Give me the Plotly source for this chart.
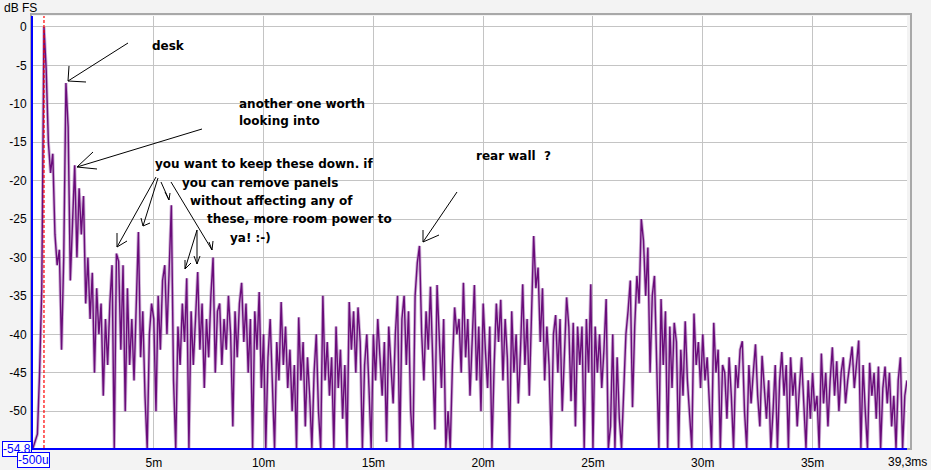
import plotly.graph_objects as go

# ---------------- data ----------------
t_start_ms = -0.5
t_step_ms = 0.1
etc_db = [
    # -0.5 .. -0.1
    -54.8, -54.0, -53.0, -45.0, -34.0,
    # 0
    0.0, -5.5, -15.0, -19.0, -16.5, -27.0, -31.0, -29.0, -42.0, -30.0,
    # 1
    -7.3, -13.0, -33.0, -24.0, -18.0, -30.0, -21.0, -27.0, -22.0, -36.0,
    # 2
    -30.0, -38.0, -32.0, -45.0, -34.0, -40.0, -36.0, -48.0, -38.0, -44.0,
    # 3
    -36.0, -31.0, -54.8, -29.5, -30.5, -42.0, -31.0, -50.0, -34.0, -44.0,
    # 4
    -38.0, -46.0, -35.0, -26.7, -43.0, -37.0, -48.0, -54.8, -40.0, -36.0,
    # 5
    -38.0, -50.0, -35.0, -42.0, -33.0, -31.0, -40.0, -30.0, -23.2, -46.0,
    # 6
    -54.8, -39.0, -44.0, -36.0, -41.0, -32.7, -54.8, -37.0, -44.0, -38.0,
    # 7
    -31.9, -42.0, -36.0, -47.0, -38.0, -43.0, -35.0, -30.0, -45.0, -37.0,
    # 8
    -36.0, -44.0, -38.0, -42.0, -35.0, -40.0, -52.0, -37.0, -43.0, -36.0,
    # 9
    -33.3, -41.0, -36.0, -45.0, -38.0, -54.8, -37.0, -42.0, -34.5, -47.0,
    # 10
    -40.0, -54.8, -43.0, -38.0, -48.0, -54.8, -41.0, -46.0, -35.8, -44.0,
    # 11
    -39.0, -47.0, -42.0, -50.0, -44.0, -54.8, -37.8, -46.0, -41.0, -52.0,
    # 12
    -43.0, -48.0, -54.8, -45.0, -40.0, -50.0, -54.8, -35.0, -46.0, -41.0,
    # 13
    -48.0, -43.0, -54.8, -39.0, -47.0, -42.0, -51.0, -44.0, -54.8, -35.8,
    # 14
    -42.0, -37.0, -45.0, -36.5, -41.0, -54.8, -44.0, -40.0, -47.0, -54.8,
    # 15
    -40.0, -46.0, -38.0, -43.0, -48.0, -41.0, -54.0, -39.0, -44.0, -49.0,
    # 16
    -40.0, -35.0, -54.8, -38.0, -35.0, -44.0, -37.0, -50.0, -54.8, -35.0,
    # 17
    -30.7, -28.5, -40.0, -46.0, -37.0, -42.0, -33.8, -44.0, -52.4, -33.6,
    # 18
    -41.0, -47.0, -38.0, -54.8, -50.0, -54.8, -44.0, -36.5, -40.0, -38.0,
    # 19
    -45.0, -33.3, -43.0, -38.0, -48.0, -41.0, -33.6, -46.0, -39.0, -50.0,
    # 20
    -36.0, -42.0, -47.0, -39.0, -54.8, -44.0, -36.0, -41.0, -35.5, -46.0,
    # 21
    -38.0, -43.0, -54.8, -37.0, -45.0, -40.0, -49.0, -42.0, -33.5, -44.0,
    # 22
    -38.0, -48.0, -36.0, -27.2, -34.0, -31.3, -41.0, -34.0, -46.0, -39.0,
    # 23
    -44.0, -54.8, -40.0, -37.5, -45.0, -38.0, -50.0, -42.0, -35.2, -39.0,
    # 24
    -48.7, -38.5, -52.0, -39.0, -44.0, -39.0, -54.8, -38.0, -45.0, -33.5,
    # 25
    -54.8, -39.0, -45.0, -40.0, -47.0, -42.0, -35.4, -54.8, -52.0, -40.0,
    # 26
    -54.8, -43.0, -51.0, -54.8, -46.0, -40.0, -36.9, -33.0, -49.5, -39.0,
    # 27
    -32.4, -36.0, -25.0, -27.8, -35.0, -28.7, -45.0, -35.0, -32.4, -43.0,
    # 28
    -54.8, -35.4, -44.0, -37.0, -54.8, -39.0, -47.0, -38.5, -41.0, -54.8,
    # 29
    -42.0, -48.0, -38.3, -46.0, -50.0, -54.8, -37.3, -44.0, -41.0, -47.0,
    # 30
    -40.0, -46.0, -43.0, -50.0, -54.8, -38.5, -45.0, -42.0, -54.8, -44.0,
    # 31
    -45.0, -51.0, -43.0, -48.0, -54.8, -44.0, -47.0, -42.0, -40.9, -50.0,
    # 32
    -54.8, -44.0, -49.0, -45.0, -41.3, -48.0, -52.0, -42.8, -47.0, -51.0,
    # 33
    -46.0, -54.8, -50.0, -44.0, -54.8, -46.0, -42.3, -48.0, -44.0, -54.8,
    # 34
    -43.0, -48.0, -45.0, -52.0, -47.0, -43.0, -49.0, -54.8, -46.0, -51.0,
    # 35
    -45.0, -50.0, -48.0, -54.8, -42.5, -49.0, -45.0, -52.0, -46.0, -41.7,
    # 36
    -48.0, -43.5, -50.0, -45.0, -43.0, -49.0, -46.0, -44.0, -41.6, -47.0,
    # 37
    -44.0, -40.8, -54.8, -44.0, -50.0, -54.8, -43.7, -48.0, -45.0, -51.0,
    # 38
    -44.2, -54.8, -47.0, -44.2, -49.0, -45.0, -52.0, -48.0, -54.8, -46.0,
    # 39.0 .. 39.3
    -43.0, -54.8, -48.0, -46.0,
]
time_ms = [round(t_start_ms + t_step_ms * i, 2) for i in range(len(etc_db))]

x_range = [-0.5, 39.3]
y_range = [-54.8, 1.43]
x_tick_vals = [5, 10, 15, 20, 25, 30, 35]
x_tick_text = ["5m", "10m", "15m", "20m", "25m", "30m", "35m"]
y_tick_vals = [0, -5, -10, -15, -20, -25, -30, -35, -40, -45, -50]
y_tick_text = ["0", "-5", "-10", "-15", "-20", "-25", "-30", "-35", "-40", "-45", "-50"]
marker_time_ms = 0.0

# ---------------- layout geometry ----------------
W_FIG, H_FIG = 931, 470
L, R, T, B = 33, 24, 16, 22
PW = W_FIG - L - R
PH = H_FIG - T - B


def px(x):
    return (x - L) / PW


def py(y):
    return (H_FIG - B - y) / PH


fig = go.Figure()
fig.add_trace(go.Scatter(x=time_ms, y=etc_db, mode="lines",
                         line=dict(color="rgba(165,115,180,0.55)", width=3.2),
                         hoverinfo="skip", showlegend=False))
fig.add_trace(go.Scatter(x=time_ms, y=etc_db, mode="lines",
                         line=dict(color="#6a0c7a", width=1.4),
                         showlegend=False))

shapes = []
# frame / shadow
shapes.append(dict(type="rect", xref="paper", yref="paper", x0=px(31), x1=px(911), y0=py(449), y1=py(14),
                   line=dict(color="#a8a8a8", width=2), layer="below"))
# red dashed marker
shapes.append(dict(type="line", xref="x", yref="paper", x0=marker_time_ms, x1=marker_time_ms, y0=0, y1=1,
                   line=dict(color="#ff0000", width=1.2, dash="3px,2px")))

arrow_color = "black"


def seg(x0, y0, x1, y1):
    shapes.append(dict(type="line", xref="paper", yref="paper",
                       x0=px(x0), y0=py(y0), x1=px(x1), y1=py(y1),
                       line=dict(color=arrow_color, width=1)))


# desk
seg(128, 43, 68, 81); seg(68, 81, 69, 66); seg(68, 81, 86, 82)
# another one
seg(202, 129, 77, 167); seg(77, 167, 93, 152); seg(77, 167, 97, 169)
# you want to keep these down
seg(156, 177, 117, 247); seg(117, 247, 117, 233); seg(117, 247, 127, 241)
seg(158, 178, 143, 226); seg(143, 226, 141, 218); seg(143, 226, 150, 223)
seg(161, 182, 169, 200); seg(169, 200, 165, 192); seg(169, 200, 170, 193)
seg(171, 182, 212, 250); seg(212, 250, 209, 242); seg(212, 250, 213, 241)
seg(197, 230, 185, 269); seg(185, 269, 185, 260); seg(185, 269, 191, 263)
seg(197, 230, 197, 264); seg(197, 264, 194, 256); seg(197, 264, 200, 256)
# rear wall
seg(457, 192, 423, 242); seg(423, 242, 423, 230); seg(423, 242, 439, 235)

ann_font = dict(family="DejaVu Sans, Verdana, sans-serif", size=12, color="black", weight="bold")
annotations = []


def txt(x, y, s):
    annotations.append(dict(xref="paper", yref="paper", x=px(x), y=py(y), text=s, showarrow=False,
                            xanchor="left", yanchor="middle", font=ann_font))


txt(150, 46, "desk")
txt(237, 104, "another one worth")
txt(237, 121, "looking into")
txt(153, 164, "you want to keep these down. if")
txt(180, 183, "you can remove panels")
txt(188, 201, "without affecting any of")
txt(205, 219, "these, more room power to")
txt(228, 238, "ya! :-)")
txt(474, 156, "rear wall  ?")

small_font = dict(family="Liberation Sans, Arial, sans-serif", size=12, color="black")
annotations.append(dict(xref="paper", yref="paper", x=px(2), y=py(8), text="dB FS", showarrow=False,
                        xanchor="left", yanchor="middle", font=small_font))
annotations.append(dict(xref="paper", yref="paper", x=px(929), y=py(462), text="39,3ms", showarrow=False,
                        xanchor="right", yanchor="middle", font=small_font))
blue_font = dict(family="Liberation Sans, Arial, sans-serif", size=12, color="#0000ff")
annotations.append(dict(xref="paper", yref="paper", x=px(32), y=py(449), text="-54,8", showarrow=False,
                        xanchor="right", yanchor="middle", font=blue_font, bgcolor="white",
                        bordercolor="#0000ff", borderwidth=1, borderpad=0))
annotations.append(dict(xref="paper", yref="paper", x=px(17), y=py(460), text="-500u", showarrow=False,
                        xanchor="left", yanchor="middle", font=blue_font, bgcolor="white",
                        bordercolor="#0000ff", borderwidth=1, borderpad=0))

fig.update_layout(
    width=W_FIG, height=H_FIG,
    margin=dict(l=L, r=R, t=T, b=B, autoexpand=False),
    paper_bgcolor="#f3f3f3", plot_bgcolor="white",
    shapes=shapes, annotations=annotations,
    font=dict(family="Liberation Sans, Arial, sans-serif", size=12, color="black"),
)
fig.update_xaxes(range=x_range, tickvals=x_tick_vals, ticktext=x_tick_text, automargin=False,
                 showgrid=True, gridcolor="#c4c4c4", gridwidth=1, zeroline=False,
                 showline=True, linecolor="#0000ff", linewidth=2,
                 ticks="outside", ticklen=3, tickcolor="rgba(0,0,0,0)")
fig.update_yaxes(range=y_range, tickvals=y_tick_vals, ticktext=y_tick_text, automargin=False,
                 showgrid=True, gridcolor="#c4c4c4", gridwidth=1, zeroline=False,
                 showline=True, linecolor="#0000ff", linewidth=2,
                 ticks="outside", ticklen=2, tickcolor="rgba(0,0,0,0)")

fig.write_html("out.html", config={"displayModeBar": False},
               post_script="document.body.style.margin='0';document.body.style.overflow='hidden';")
